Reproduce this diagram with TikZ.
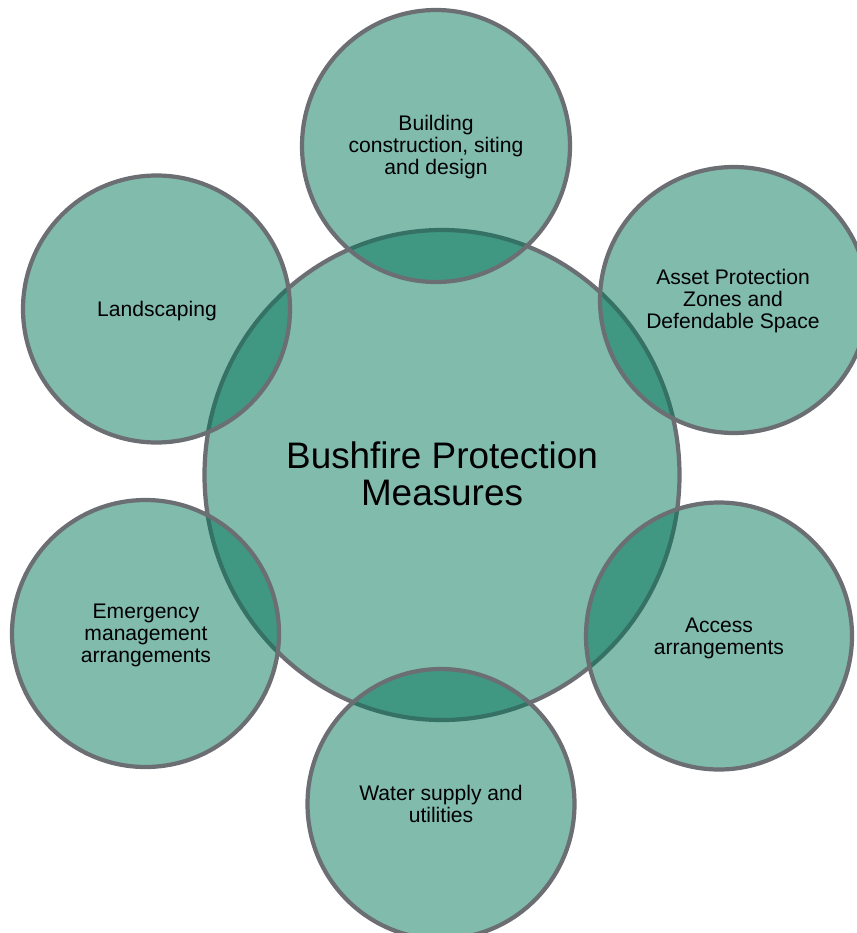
\documentclass[tikz,border=0pt]{standalone}
\usepackage{fontspec}
\setmainfont{Liberation Sans}
\definecolor{bpteal}{RGB}{1,119,89}
\definecolor{bpgrey}{RGB}{107,110,114}
\begin{document}
\begin{tikzpicture}[x=0.02cm,y=-0.02cm,
        rim/.style={draw=bpgrey,line width=2.4pt},
        petal/.style={rim,fill=bpteal,fill opacity=0.5},
        itemtext/.style={align=center,inner sep=0pt,font=\fontsize{12}{12.5}\selectfont},
        hubtext/.style={align=center,inner sep=0pt,font=\fontsize{21}{21}\selectfont}]
    \useasboundingbox (0,0) rectangle (856,933);
    \draw[rim,fill=bpteal!50] (442,475) ellipse [x radius=237.5,y radius=245]; % hub
    \draw[petal] (436,146) ellipse [x radius=134,y radius=136]; % north
    \draw[petal] (734,300) ellipse [x radius=134,y radius=133]; % north-east
    \draw[petal] (719,636) ellipse [x radius=133,y radius=133.5]; % south-east
    \draw[petal] (441,804) ellipse [x radius=133.5,y radius=135]; % south
    \draw[petal] (145.5,633.5) ellipse [x radius=133.5,y radius=133.5]; % south-west
    \draw[petal] (156.5,309) ellipse [x radius=133.5,y radius=133.5]; % north-west
    \node[hubtext]  (hub)       at (442,474)   {Bushfire Protection\\Measures};
    \node[itemtext] (building)  at (436,147)   {Building\\construction, siting\\and design};
    \node[itemtext] (apz)       at (733,301)   {Asset Protection\\Zones and\\Defendable Space};
    \node[itemtext] (access)    at (719,638)   {Access\\arrangements};
    \node[itemtext] (water)     at (441,804)   {Water supply and\\utilities};
    \node[itemtext] (emergency) at (146,635)   {Emergency\\management\\arrangements};
    \node[itemtext] (landscape) at (157,311)   {Landscaping};
\end{tikzpicture}
\end{document}
